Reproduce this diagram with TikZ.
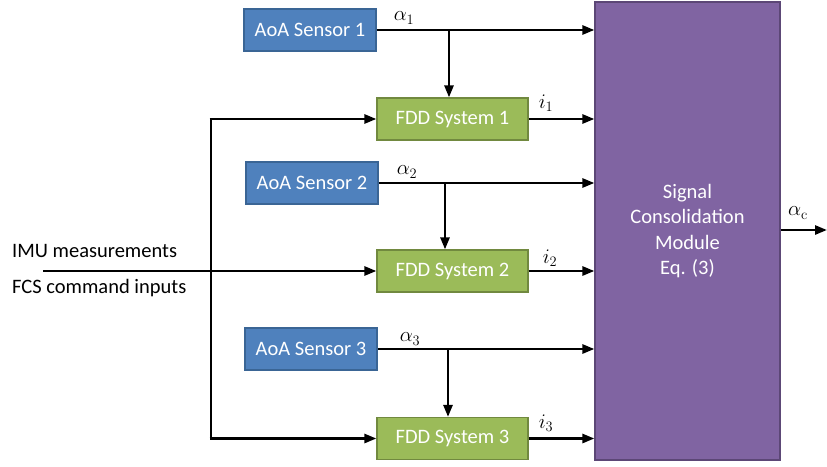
\documentclass[tikz,border=0pt]{standalone}
\usepackage[no-math]{fontspec}
\setmainfont{Carlito}
\usetikzlibrary{arrows.meta}
\definecolor{sblue}{HTML}{4F81BD}
\definecolor{sblueb}{HTML}{3A6595}
\definecolor{fgreen}{HTML}{9BBB59}
\definecolor{fgreenb}{HTML}{71893F}
\definecolor{mpurple}{HTML}{8064A2}
\definecolor{mpurpleb}{HTML}{5C4776}
\begin{document}
\begin{tikzpicture}[x=1pt,y=-1pt,
  sensor/.style={draw=sblueb,fill=sblue,line width=1.2pt,minimum width=132pt,minimum height=42pt,text=white,font=\fontsize{20.5}{24}\selectfont,inner sep=0pt},
  fdd/.style={draw=fgreenb,fill=fgreen,line width=1.2pt,minimum width=151pt,minimum height=42pt,text=white,font=\fontsize{20.5}{24}\selectfont,inner sep=0pt},
  conn/.style={line width=2.6pt,-{Triangle[length=12pt,width=9pt]}},
  wire/.style={line width=2.6pt},
  lbl/.style={font=\fontsize{20.5}{24}\selectfont,inner sep=0pt},
  mlbl/.style={font=\huge,inner sep=0pt}]
\useasboundingbox (0,0) rectangle (827,466);
\node[sensor] (s1) at (310,30) {AoA Sensor 1};
\node[sensor] (s2) at (312,183) {AoA Sensor 2};
\node[sensor] (s3) at (311,349) {AoA Sensor 3};
\node[fdd] (f1) at (452.5,119) {FDD System 1};
\node[fdd] (f2) at (452.5,271) {FDD System 2};
\node[fdd] (f3) at (452.5,438.5) {FDD System 3};
\node[draw=mpurpleb,fill=mpurple,line width=1.2pt,minimum width=185pt,minimum height=458pt,inner sep=0pt,text=white,align=center,font=\fontsize{20.5}{25.5}\selectfont] (m) at (687.5,231) {Signal\\Consolidation\\Module\\Eq. (3)};
% sensor to module
\draw[conn] (s1.east) -- (s1.east -| m.west);
\draw[conn] (s2.east) -- (s2.east -| m.west);
\draw[conn] (s3.east) -- (s3.east -| m.west);
% fdd to module
\draw[conn] (f1.east) -- (f1.east -| m.west);
\draw[conn] (f2.east) -- (f2.east -| m.west);
\draw[conn] (f3.east) -- (f3.east -| m.west);
% branches
\coordinate (j1) at (449,30);
\coordinate (j2) at (445,183);
\coordinate (j3) at (448,349);
\draw[conn] (j1) -- (j1 |- f1.north);
\draw[conn] (j2) -- (j2 |- f2.north);
\draw[conn] (j3) -- (j3 |- f3.north);
% inputs
\coordinate (in) at (43,271);
\coordinate (v1) at (211,119);
\coordinate (v3) at (211,438.5);
\draw[conn] (in) -- (f2.west);
\draw[wire] ([yshift=-1.3pt]v1) -- ([yshift=1.3pt]v3);
\draw[conn] ([xshift=-1.3pt]v1) -- (f1.west);
\draw[conn] ([xshift=-1.3pt]v3) -- (f3.west);
% output
\coordinate (out) at (827,230);
\draw[conn] (m.east |- out) -- (out);
% labels
\node[lbl,anchor=west] (t1) at (12,251) {IMU measurements};
\node[lbl,anchor=west] (t2) at (12,288) {FCS command inputs};
\node[mlbl] (la1) at (404,18) {$\alpha_1$};
\node[mlbl] (la2) at (407,172) {$\alpha_2$};
\node[mlbl] (la3) at (410,339) {$\alpha_3$};
\node[mlbl] (li1) at (546,103) {$i_1$};
\node[mlbl] (li2) at (550,258) {$i_2$};
\node[mlbl] (li3) at (546,423) {$i_3$};
\node[mlbl] (lac) at (798,213) {$\alpha_{\mathrm{c}}$};
\end{tikzpicture}
\end{document}
